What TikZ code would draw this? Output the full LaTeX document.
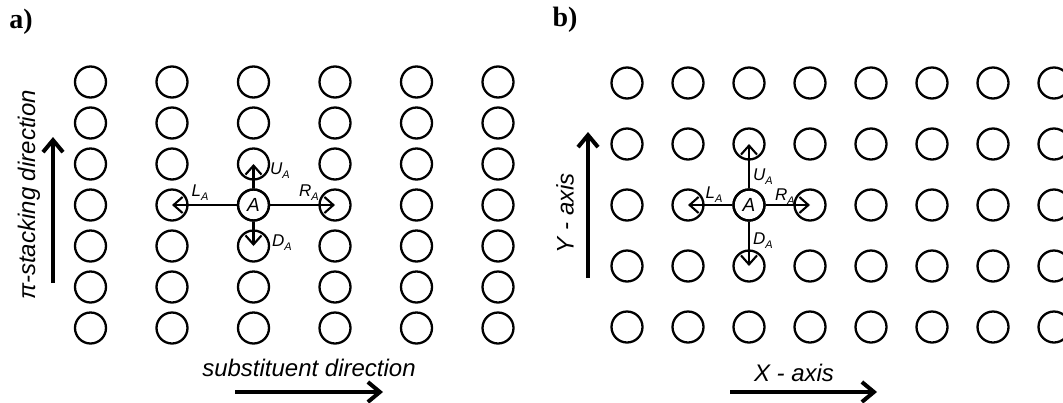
\documentclass[tikz,border=0pt]{standalone}
\usepackage{fontspec}
\setmainfont{Liberation Serif}
\setsansfont{Liberation Sans}
\usetikzlibrary{arrows.meta}
\newcommand{\sublab}[1]{{\fontsize{8.5}{9}\selectfont\sffamily\itshape #1\raisebox{-0.45ex}{\fontsize{5.5}{6}\selectfont A}}}
\begin{document}
\begin{tikzpicture}[x=0.5pt,y=-0.5pt,
  site/.style={circle,draw,line width=1.15pt,minimum size=15.5pt,inner sep=0pt},
  hop/.style={line width=1.05pt,-{Straight Barb[length=4.5pt,width=8pt,line width=1.05pt]}},
  axis/.style={line width=2pt,-{Straight Barb[length=6pt,width=10pt,line width=2pt]}},
  axtext/.style={font=\fontsize{12}{14}\selectfont\sffamily\itshape,inner sep=0pt},
  hoplab/.style={inner sep=0pt},
  panel/.style={font=\fontsize{14}{16}\selectfont\bfseries,inner sep=0pt}]
\clip (0,0) rectangle (1063,402);
% panel labels
\node[panel] (pa) at (21,22) {a)};
\node[panel] (pb) at (565,20) {b)};
% panel a lattice
\foreach \i/\x in {1/90.5,2/172,3/253.5,4/335,5/416.5,6/498}{
  \foreach \j/\y in {1/82,2/123,3/164,4/205,5/246,6/287,7/328}{
    \node[site] (a\i\j) at (\x,\y) {};
  }
}
\node[site,font=\fontsize{9.5}{10}\selectfont\sffamily\itshape] (aA) at (a34) {A};
\draw[hop] (aA) -- (a33.center);
\draw[hop] (aA) -- (a35.center);
\draw[hop] (aA) -- (a24.center);
\draw[hop] (aA) -- (a44.center);
\node[hoplab] (aU) at (280,171) {\sublab{U}};
\node[hoplab] (aL) at (200,193) {\sublab{L}};
\node[hoplab] (aR) at (309,193) {\sublab{R}};
\node[hoplab] (aD) at (282,243) {\sublab{D}};
% panel a axes
\coordinate (ay0) at (53,283);
\coordinate (ay1) at (53,137);
\draw[axis] (ay0) -- (ay1);
\node[axtext,rotate=90] (ayt) at (29,195) {π-stacking direction};
\coordinate (ax0) at (235,392);
\coordinate (ax1) at (383,392);
\draw[axis] (ax0) -- (ax1);
\node[axtext] (axt) at (309,368) {substituent direction};
% panel b lattice
\foreach \i/\x in {1/627,2/688,3/749,4/810,5/871,6/932,7/993,8/1054}{
  \foreach \j/\y in {1/83,2/144,3/205,4/266,5/327}{
    \node[site] (b\i\j) at (\x,\y) {};
  }
}
\node[site,font=\fontsize{9.5}{10}\selectfont\sffamily\itshape] (bA) at (b33) {A};
\draw[hop] (bA) -- (b32.center);
\draw[hop] (bA) -- (b34.center);
\draw[hop] (bA) -- (b23.center);
\draw[hop] (bA) -- (b43.center);
\node[hoplab] (bU) at (763,177) {\sublab{U}};
\node[hoplab] (bL) at (714,195) {\sublab{L}};
\node[hoplab] (bR) at (785,197) {\sublab{R}};
\node[hoplab] (bD) at (763,241) {\sublab{D}};
% panel b axes
\coordinate (by0) at (588,278);
\coordinate (by1) at (588,132);
\draw[axis] (by0) -- (by1);
\node[axtext,rotate=90] (byt) at (565,213) {Y - axis};
\coordinate (bx0) at (730,392);
\coordinate (bx1) at (877,392);
\draw[axis] (bx0) -- (bx1);
\node[axtext] (bxt) at (794,373) {X - axis};
\end{tikzpicture}
\end{document}
